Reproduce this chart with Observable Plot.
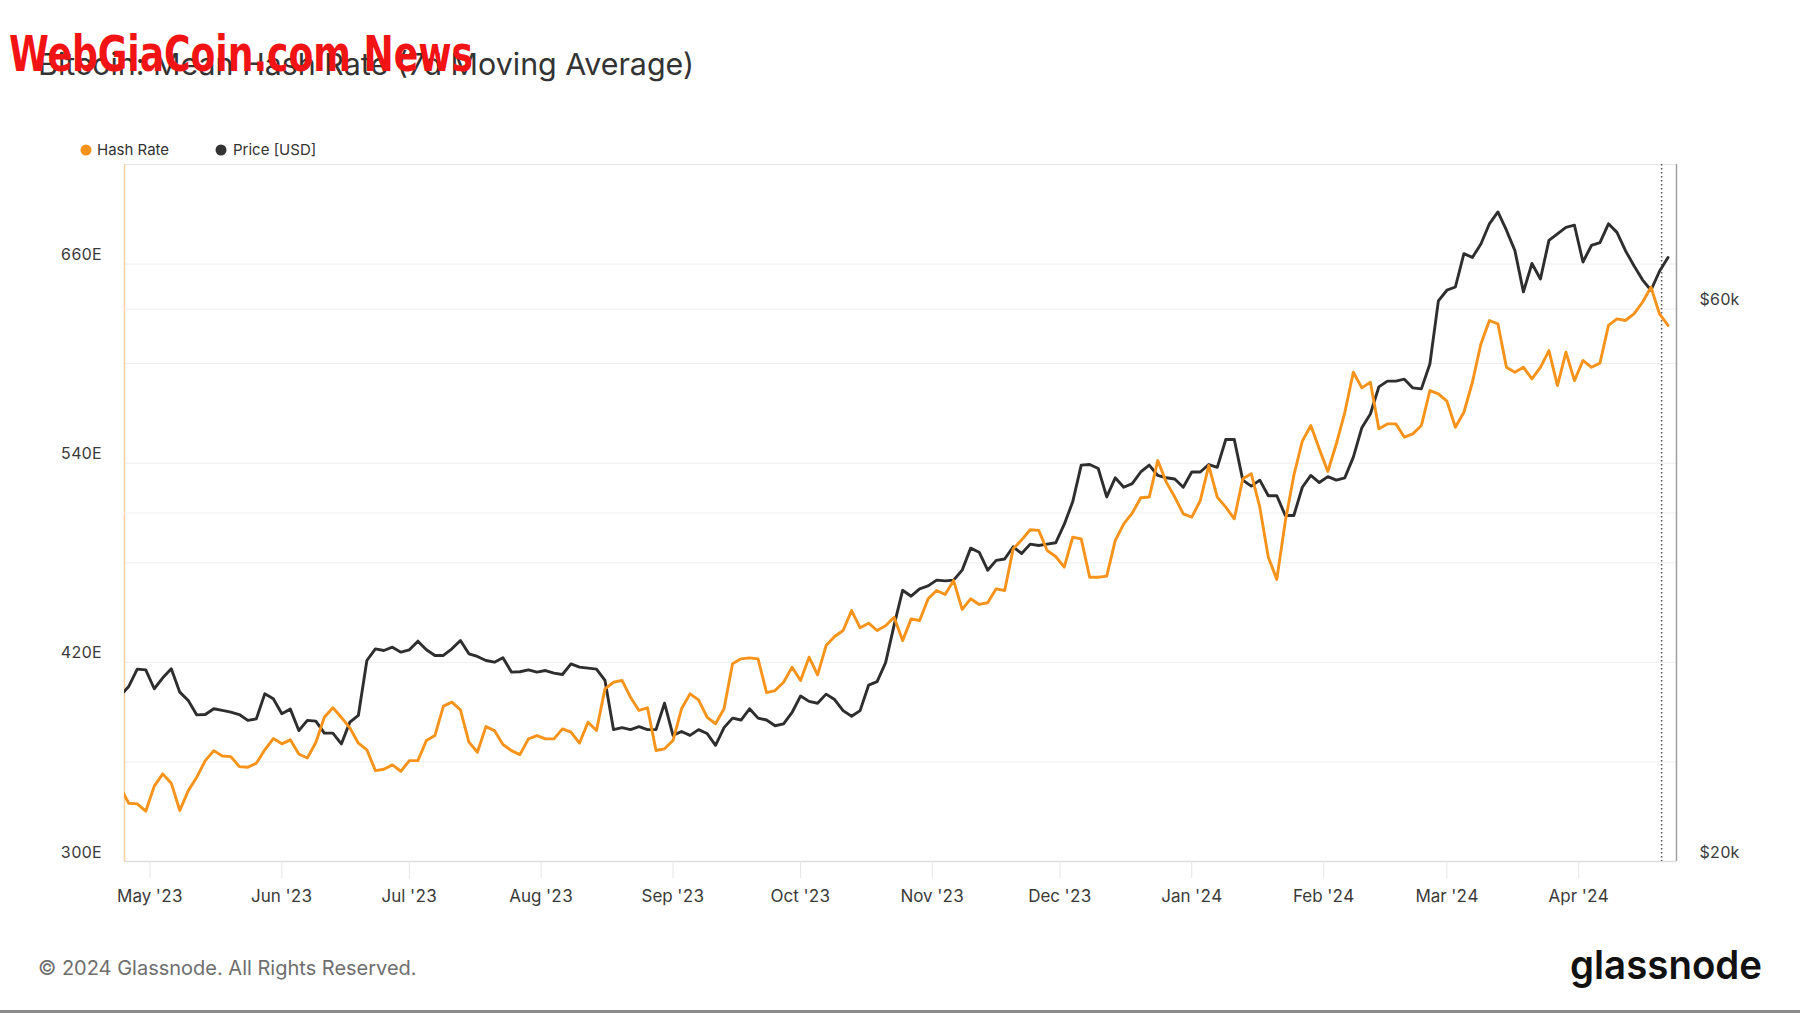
<!DOCTYPE html>
<html>
<head>
<meta charset="utf-8">
<script src="https://cdn.jsdelivr.net/npm/d3@7"></script>
<script src="https://cdn.jsdelivr.net/npm/@observablehq/plot@0.6"></script>
<style>
  html, body { margin: 0; padding: 0; background: #fff; }
  #page { position: relative; width: 1800px; height: 1013px; overflow: hidden; background: #fff; }
  .layer { position: absolute; left: 0; top: 120px; }
  #deco { position: absolute; left: 0; top: 0; pointer-events: none; }
</style>
</head>
<body>
<div id="page"></div>
<script>
// ---------- data ----------
const seriesStart = "2023-04-24";   // first sample, one sample every 2 days
const stepDays = 2;

// Mean hash rate, 7d moving average (EH/s)
const hashRate = [
  344.8, 335.1, 334.7, 330.3, 345.4, 352.8, 347.2, 330.7, 342.7, 350.8,
  360.8, 366.8, 363.6, 363.2, 357.2, 356.8, 359.2, 367.3, 374.1, 370.9,
  373.3, 364.8, 362.4, 371.7, 386.9, 392.6, 386.9, 380.5, 371.3, 367.3,
  354.8, 355.6, 358.2, 354.4, 360.8, 360.8, 372.9, 375.9, 393.6, 396.0,
  391.4, 371.9, 365.8, 381.3, 378.9, 370.5, 366.8, 364.4, 373.9, 375.9,
  373.9, 373.9, 379.9, 377.9, 371.3, 383.9, 378.9, 404.0,
  408.0, 409.1, 399.0, 391.0, 392.6, 366.9, 367.9, 372.9, 392.0, 401.0, 397.4, 387.0,
  383.0, 392.0, 419.1, 422.1, 422.7, 422.1, 401.8, 403.0, 408.0, 417.1,
  409.1, 423.1, 412.5, 430.1, 435.6, 439.2, 451.2, 440.8, 443.6, 439.2,
  442.0, 447.2, 433.1, 446.2, 445.2, 458.3, 463.3, 460.9, 469.3, 451.9,
  458.3, 454.9, 455.9, 464.3, 463.3, 488.4, 493.8, 499.9, 499.5, 487.4,
  483.8, 477.4, 495.4, 494.4, 471.3, 471.3, 472.0, 493.4, 503.5, 509.9,
  519.2, 519.6, 541.6, 528.6, 519.6, 509.5, 507.5, 517.5, 538.6, 519.6,
  513.5, 506.5, 530.6, 533.6, 513.5, 483.4, 470.0,
  505.0, 532.6, 553.3,
  562.7, 548.6, 535.0, 551.7, 570.7, 594.8, 585.4, 588.8, 560.7, 563.7,
  563.7, 555.7, 557.7, 562.7, 583.8, 581.8, 577.4, 561.7, 570.7, 588.8,
  611.9, 626.0, 624.0, 597.8, 594.8, 597.8, 590.8, 597.8, 607.9, 586.8,
  606.9, 589.8, 601.9, 597.8, 600.3, 623.0, 627.0, 626.0, 630.0, 637.0,
  646.0, 630.0, 623.0
];

// BTC price (USD)
const priceUSD = [
  27820, 28330, 29320, 29280, 28200, 28820, 29340, 28010, 27550, 26770,
  26790, 27100, 27010, 26920, 26790, 26480, 26560, 27920, 27640, 26830,
  27080, 25950, 26480, 26440, 25820, 25820, 25270, 26390, 26740, 29830,
  30530, 30430, 30630, 30330, 30470, 31000, 30470, 30130, 30130, 30530,
  31040, 30230, 30070, 29830, 29730, 29990, 29150, 29170, 29280, 29150,
  29240, 29090, 29010, 29630, 29440, 29380, 29320, 28670,
  26000, 26100, 26000, 26150, 26000, 26000, 27400, 25700, 25900, 25700, 26000, 25800,
  25200, 26100, 26600, 26500, 27100, 26600, 26500, 26200, 26300, 26900,
  27800, 27500, 27400, 27900, 27600, 27000, 26700, 27000, 28400, 28600,
  29700, 32000, 34300, 33900, 34400, 34600, 35000, 34950, 35000, 35700,
  37300, 37000, 35700, 36400, 36500, 37400, 36900, 37600, 37500, 37600,
  37700, 39100, 40900, 44000, 44050, 43700, 41300, 42900, 42100, 42400,
  43400, 44000, 43100, 42900, 42800, 42100, 43400, 43400, 44050, 43800,
  46300, 46300, 42700, 42200, 42700, 41400, 41400, 39800, 39800, 42100,
  43100, 42500, 43000, 42700, 42900, 44700, 47400, 48700, 51400, 52000,
  52000, 52200, 51300, 51200, 53800, 61000, 62300, 62700, 67000, 66500,
  68300, 71100, 72800, 70200, 67400, 62100, 65700, 63700, 68800, 69700,
  70600, 70900, 65900, 68100, 68500, 71100, 69900, 67400, 65400, 63600,
  62300, 64700, 66500
];

const xDomainDates = ["2023-04-25", "2024-04-24"];
const monthTicks = ["2023-05-01","2023-06-01","2023-07-01","2023-08-01","2023-09-01","2023-10-01",
                    "2023-11-01","2023-12-01","2024-01-01","2024-02-01","2024-03-01","2024-04-01"];
const hashTickLabels = [300, 420, 540, 660];
const hashGridLines = [360, 420, 480, 540, 600, 660];
const hashDomain = [300, 720];
const priceTickLabels = [20000, 60000];
const priceGridLines = [40000, 60000];
const priceDomain = [20000, 80000];
const halvingDate = ["2024-04-20T12:00:00Z"];

// ---------- build ----------
const t0 = new Date(seriesStart + "T00:00:00Z");
const dateAt = i => new Date(t0.getTime() + i * stepDays * 86400000);
const hashData = hashRate.map((v, i) => ({date: dateAt(i), value: v}));
const priceData = priceUSD.map((v, i) => ({date: dateAt(i), value: v}));
const xDomain = xDomainDates.map(d => new Date(d + "T00:00:00Z"));

const ORANGE = "#f7931a", DARK = "#2e2e2e", TXT = "#3a3a3a";
const FONT = "Inter, 'Noto Sans', sans-serif";

function layer(yOpts, marks) {
  return Plot.plot({
    width: 1800, height: 800,
    marginLeft: 124, marginRight: 124, marginTop: 44, marginBottom: 59,
    style: {background: "transparent", fontFamily: FONT, fontSize: "16px", color: TXT, overflow: "visible"},
    x: {type: "utc", domain: xDomain, label: null, axis: null},
    y: Object.assign({label: null, axis: null}, yOpts),
    marks
  });
}

const gridHash = layer({domain: hashDomain}, [
  Plot.ruleY(hashGridLines, {stroke: "#eeeeee", strokeWidth: 1}),
  Plot.ruleY([hashDomain[1]], {stroke: "#e4e4e4", strokeWidth: 1.2}),
  Plot.ruleY([hashDomain[0]], {stroke: "#dedede", strokeWidth: 1.5}),
  Plot.axisY(hashTickLabels, {anchor: "left", tickSize: 0, tickPadding: 23, dy: -9,
    tickFormat: d => d + "E", fill: TXT, fontSize: 16, label: null}),
  Plot.axisX(monthTicks.map(d => new Date(d + "T00:00:00Z")), {anchor: "bottom", tickSize: 17, tickPadding: 11,
    stroke: "#e6e6e6", fill: TXT, fontSize: 17, tickFormat: d3.utcFormat("%b '%y"), label: null}),
  Plot.ruleX([xDomain[0]], {stroke: "#fbd0a0", strokeWidth: 1.5})
]);

const gridPrice = layer({type: "log", domain: priceDomain}, [
  Plot.ruleY(priceGridLines, {stroke: "#eeeeee", strokeWidth: 1}),
  Plot.axisY(priceTickLabels, {anchor: "right", tickSize: 0, tickPadding: 23, dy: -9,
    tickFormat: d => "$" + d / 1000 + "k", fill: TXT, fontSize: 16, label: null}),
  Plot.ruleX([xDomain[1]], {stroke: "#a0a0a0", strokeWidth: 1.5}),
  Plot.ruleX(halvingDate.map(d => new Date(d)), {stroke: "#555", strokeWidth: 1.5, strokeDasharray: "1.5,2.5"})
]);

const priceLine = layer({type: "log", domain: priceDomain}, [
  Plot.lineY(priceData, {x: "date", y: "value", stroke: DARK, strokeWidth: 2.9, clip: true})
]);

const hashLine = layer({domain: hashDomain}, [
  Plot.lineY(hashData, {x: "date", y: "value", stroke: ORANGE, strokeWidth: 2.9, clip: true})
]);

const page = document.getElementById("page");
for (const svg of [gridHash, gridPrice, priceLine, hashLine]) {
  svg.classList.add("layer");
  page.appendChild(svg);
}

// ---------- title, legend, footer ----------
const NS = "http://www.w3.org/2000/svg";
const deco = document.createElementNS(NS, "svg");
deco.setAttribute("id", "deco");
deco.setAttribute("width", 1800);
deco.setAttribute("height", 1013);
function el(tag, attrs, text) {
  const e = document.createElementNS(NS, tag);
  for (const k in attrs) e.setAttribute(k, attrs[k]);
  if (text != null) e.textContent = text;
  deco.appendChild(e);
  return e;
}
el("text", {x: 38, y: 75, "font-family": FONT, "font-size": 30.4, fill: "#333"}, "Bitcoin: Mean Hash Rate (7d Moving Average)");
el("text", {x: 9, y: 71, "font-family": "'Liberation Sans Narrow', 'DejaVu Sans Condensed', sans-serif", "font-weight": "bold",
  "font-size": 50, fill: "#f21414", textLength: 464, lengthAdjust: "spacingAndGlyphs"}, "WebGiaCoin.com News");
el("circle", {cx: 86, cy: 150, r: 5.5, fill: ORANGE});
el("text", {x: 97, y: 155, "font-family": FONT, "font-size": 15, fill: "#333"}, "Hash Rate");
el("circle", {cx: 221, cy: 150, r: 5.5, fill: "#333"});
el("text", {x: 233, y: 155, "font-family": FONT, "font-size": 15, fill: "#333"}, "Price [USD]");
el("text", {x: 38, y: 975, "font-family": FONT, "font-size": 20, fill: "#6e6e6e"}, "© 2024 Glassnode. All Rights Reserved.");
el("text", {x: 1570, y: 979, "font-family": FONT, "font-weight": 600, "font-size": 40, fill: "#111",
  textLength: 192, lengthAdjust: "spacingAndGlyphs"}, "glassnode");
el("rect", {x: 0, y: 1010, width: 1800, height: 3, fill: "#8c8c8c"});
page.appendChild(deco);
</script>
</body>
</html>
